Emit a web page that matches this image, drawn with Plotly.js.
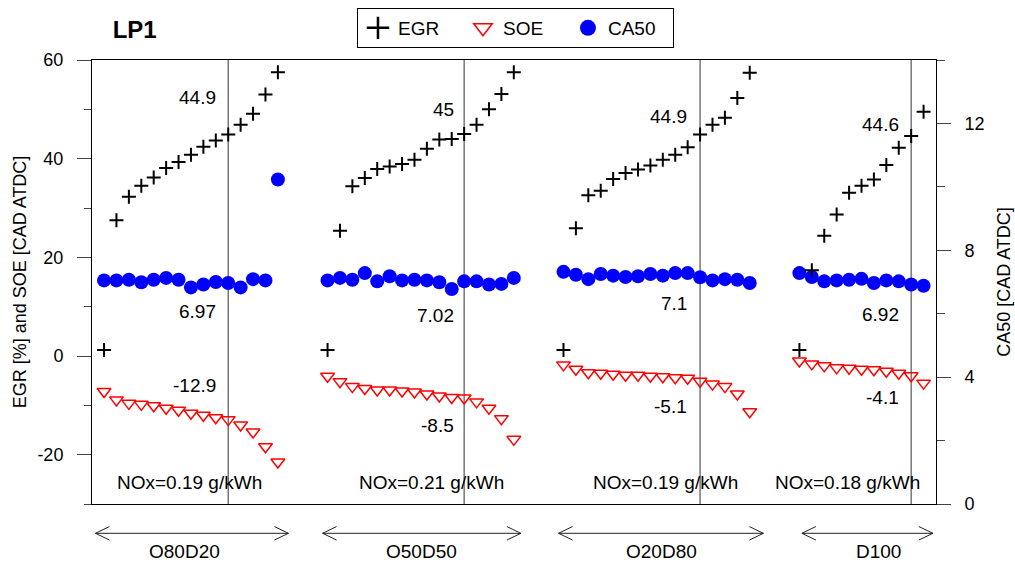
<!DOCTYPE html>
<html><head><meta charset="utf-8">
<script src="https://cdn.plot.ly/plotly-3.0.1.min.js"></script>
<style>html,body{margin:0;padding:0;background:#fff}#chart{width:1015px;height:562px}</style>
</head><body><div id="chart"></div>
<script>
// ---- data ----
const groups = ['O80D20', 'O50D50', 'O20D80', 'D100'];

const egr_O80D20 = [1.2, 27.5, 32.3, 34.5, 36.2, 38.1, 39.3, 40.8, 42.4, 43.7, 44.9, 46.9, 49.1, 53.0, 57.5];
const soe_O80D20 = [-7.2, -8.9, -9.6, -9.8, -10.1, -10.6, -11.0, -11.6, -12.0, -12.5, -12.9, -14.0, -15.4, -18.4, -21.5];
const ca50_O80D20 = [7.05, 7.05, 7.07, 6.99, 7.07, 7.13, 7.07, 6.83, 6.92, 7.0, 6.97, 6.83, 7.09, 7.05, 10.23];

const egr_O50D50 = [1.2, 25.4, 34.4, 36.1, 37.9, 38.4, 38.9, 39.8, 42.0, 43.9, 44.0, 45.0, 46.9, 50.0, 53.1, 57.5];
const soe_O50D50 = [-4.1, -5.2, -6.2, -6.6, -6.9, -6.9, -7.1, -7.3, -7.7, -8.1, -8.4, -8.5, -9.3, -10.6, -12.7, -16.9];
const ca50_O50D50 = [7.05, 7.13, 7.07, 7.28, 7.02, 7.18, 7.05, 7.07, 7.05, 6.99, 6.78, 7.02, 7.02, 6.92, 6.94, 7.13];

const egr_O20D80 = [1.2, 25.9, 32.6, 33.5, 35.9, 37.1, 37.8, 38.6, 39.8, 40.8, 42.3, 44.9, 46.9, 48.3, 52.3, 57.4];
const soe_O20D80 = [-1.8, -2.7, -3.4, -3.5, -3.7, -3.9, -3.9, -4.1, -4.2, -4.4, -4.5, -5.1, -5.7, -6.2, -7.7, -11.3];
const ca50_O20D80 = [7.32, 7.23, 7.09, 7.25, 7.2, 7.16, 7.18, 7.25, 7.2, 7.28, 7.28, 7.15, 7.05, 7.09, 7.07, 6.97];

const egr_D100 = [1.2, 17.4, 24.4, 28.7, 33.1, 34.5, 35.8, 38.7, 42.2, 44.6, 49.5];
const soe_D100 = [-1.0, -1.6, -2.0, -2.4, -2.5, -2.7, -2.8, -3.1, -3.5, -4.0, -5.5];
const ca50_D100 = [7.28, 7.16, 7.02, 7.05, 7.07, 7.1, 6.97, 7.05, 7.02, 6.92, 6.88];

const refPoint = [10, 11, 11, 9];            // index of the marked operating point in each group
const egrRef = ['44.9', '45', '44.9', '44.6'];
const ca50Ref = ['6.97', '7.02', '7.1', '6.92'];
const soeRef = ['-12.9', '-8.5', '-5.1', '-4.1'];
const noxLabels = ['NOx=0.19 g/kWh', 'NOx=0.21 g/kWh', 'NOx=0.19 g/kWh', 'NOx=0.18 g/kWh'];

const leftTickVals = [-20, 0, 20, 40, 60];
const leftTickText = ['-20', '0', '20', '40', '60'];
const rightTickVals = [0, 4, 8, 12];
const rightTickText = ['0', '4', '8', '12'];

// ---- build ----
const egrAll = [egr_O80D20, egr_O50D50, egr_O20D80, egr_D100];
const soeAll = [soe_O80D20, soe_O50D50, soe_O20D80, soe_D100];
const caAll = [ca50_O80D20, ca50_O50D50, ca50_O20D80, ca50_D100];
const GAP = 3;
const starts = [];
let s = 0;
egrAll.forEach(arr => { starts.push(s); s += arr.length + GAP; });

const X = [], E = [], S = [], C = [];
egrAll.forEach((arr, k) => {
  arr.forEach((v, i) => { X.push(starts[k] + i); E.push(v); S.push(soeAll[k][i]); C.push(caAll[k][i]); });
});

const FONT = 'Liberation Sans, Arial, sans-serif';
const black = '#000';

const traces = [
  {type: 'scatter', mode: 'markers', name: 'EGR', x: X, y: E, yaxis: 'y2', showlegend: false,
   marker: {symbol: 'cross-thin-open', size: 10, color: black, line: {width: 2, color: black}}},
  {type: 'scatter', mode: 'markers', name: 'SOE', x: X, y: S, yaxis: 'y2', showlegend: false,
   marker: {symbol: 'triangle-down-open', size: 12, color: '#ff0000', line: {width: 1.5, color: '#ff0000'}}},
  {type: 'scatter', mode: 'markers', name: 'CA50', x: X, y: C, yaxis: 'y', showlegend: false,
   marker: {symbol: 'circle', size: 14, color: '#0000ff'}},
  // legend entries (larger symbols, no points)
  {type: 'scatter', mode: 'markers', name: 'EGR', x: [null], y: [null], yaxis: 'y2',
   marker: {symbol: 'cross-thin-open', size: 16, color: black, line: {width: 2.5, color: black}}},
  {type: 'scatter', mode: 'markers', name: 'SOE', x: [null], y: [null], yaxis: 'y2',
   marker: {symbol: 'triangle-down-open', size: 16, color: '#ff0000', line: {width: 1.5, color: '#ff0000'}}},
  {type: 'scatter', mode: 'markers', name: 'CA50', x: [null], y: [null], yaxis: 'y',
   marker: {symbol: 'circle', size: 16, color: '#0000ff'}}
];

// label placement (pixel-derived offsets)
const egrLabY = [52.4, 49.9, 48.5, 46.9];
const caLabY = [9.1, 8.3, 10.6, 8.5];
const soeLabY = [-5.9, -14.0, -10.2, -8.5];
const labShift = [-10, -8, -11, -10];
const noxX = [6.9, 26.4, 45.25, 59.9];
const groupLabX = [6.5, 25.6, 44.9, 62.4];
const arrowSpan = [[-0.69, 14.85], [17.6, 33.57], [36.6, 53.1], [56.2, 66.75]];

const shapes = [];
const annotations = [];
const tf = {family: FONT, size: 19, color: black};
groups.forEach((g, k) => {
  const xr = starts[k] + refPoint[k];
  shapes.push({type: 'line', xref: 'x', yref: 'paper', x0: xr, x1: xr, y0: 0, y1: 1,
               line: {color: '#555', width: 1.2}, layer: 'below'});
  annotations.push({xref: 'x', yref: 'y2', x: xr, y: egrLabY[k], text: egrRef[k], showarrow: false,
                    xanchor: 'right', xshift: labShift[k], font: tf});
  annotations.push({xref: 'x', yref: 'y2', x: xr, y: caLabY[k], text: ca50Ref[k], showarrow: false,
                    xanchor: 'right', xshift: labShift[k], font: tf});
  annotations.push({xref: 'x', yref: 'y2', x: xr, y: soeLabY[k], text: soeRef[k], showarrow: false,
                    xanchor: 'right', xshift: labShift[k], font: tf});
  annotations.push({xref: 'x', yref: 'y2', x: noxX[k], y: -25.6, text: noxLabels[k], showarrow: false,
                    xanchor: 'center', font: tf});
  // double arrow below the axis
  const [a0, a1] = arrowSpan[k];
  const ya = -0.066, dx = 1.13, dy = 0.0152;
  const ln = {color: '#222', width: 1};
  shapes.push({type: 'line', xref: 'x', yref: 'paper', x0: a0, x1: a1, y0: ya, y1: ya, line: ln});
  shapes.push({type: 'path', xref: 'x', yref: 'paper',
               path: `M ${a0 + dx},${ya + dy} L ${a0},${ya} L ${a0 + dx},${ya - dy}`, line: ln});
  shapes.push({type: 'path', xref: 'x', yref: 'paper',
               path: `M ${a1 - dx},${ya + dy} L ${a1},${ya} L ${a1 - dx},${ya - dy}`, line: ln});
  annotations.push({xref: 'x', yref: 'paper', x: groupLabX[k], y: -0.106, text: g, showarrow: false,
                    xanchor: 'center', yanchor: 'middle', borderpad: 0, font: tf});
});

const layout = {
  width: 1015, height: 562,
  margin: {l: 92, r: 79, t: 60, b: 58, pad: 0, autoexpand: false},
  paper_bgcolor: '#fff', plot_bgcolor: '#fff',
  font: {family: FONT, size: 18, color: black},
  title: {text: '<b>LP1</b>', font: {family: FONT, size: 24, color: black},
          x: 0.111, xanchor: 'left', y: 0.947, yanchor: 'middle', xref: 'container', yref: 'container'},
  showlegend: true,
  legend: {orientation: 'h', xref: 'container', yref: 'container', x: 0.3517, xanchor: 'left',
           y: 0.9858, yanchor: 'top', entrywidth: 60, entrywidthmode: 'pixels',
           bordercolor: black, borderwidth: 1, bgcolor: '#fff', font: {family: FONT, size: 19, color: black}},
  xaxis: {range: [-0.97, 67], showgrid: false, zeroline: false, showticklabels: false, ticks: '',
          showline: true, mirror: true, linecolor: black, linewidth: 1, fixedrange: true},
  yaxis: {range: [0, 14], side: 'right', anchor: 'x', showgrid: false, zeroline: false,
          tickmode: 'array', tickvals: rightTickVals, ticktext: rightTickText,
          ticks: 'outside', ticklen: 14, tickcolor: '#444', tickwidth: 1,
          minor: {tickmode: 'linear', tick0: 0, dtick: 2, ticks: 'outside', ticklen: 8, tickcolor: '#444', showgrid: false},
          showline: true, linecolor: black, linewidth: 1, ticklabelstandoff: 10,
          tickfont: {family: FONT, size: 18, color: black},
          title: {text: 'CA50 [CAD ATDC]', font: {family: FONT, size: 18, color: black}, standoff: 13}},
  yaxis2: {range: [-30, 60], side: 'left', overlaying: 'y', anchor: 'x', showgrid: false, zeroline: false,
           tickmode: 'array', tickvals: leftTickVals, ticktext: leftTickText,
           ticks: 'outside', ticklen: 14, tickcolor: '#444', tickwidth: 1,
           minor: {tickmode: 'linear', tick0: 0, dtick: 10, ticks: 'outside', ticklen: 7, tickcolor: '#444', showgrid: false},
           showline: true, linecolor: black, linewidth: 1, ticklabelstandoff: 10,
           tickfont: {family: FONT, size: 18, color: black},
           title: {text: 'EGR [%] and SOE [CAD ATDC]', font: {family: FONT, size: 18, color: black}, standoff: 6}},
  shapes: shapes,
  annotations: annotations
};

Plotly.newPlot('chart', traces, layout, {displayModeBar: false, staticPlot: true});
</script>
</body></html>
